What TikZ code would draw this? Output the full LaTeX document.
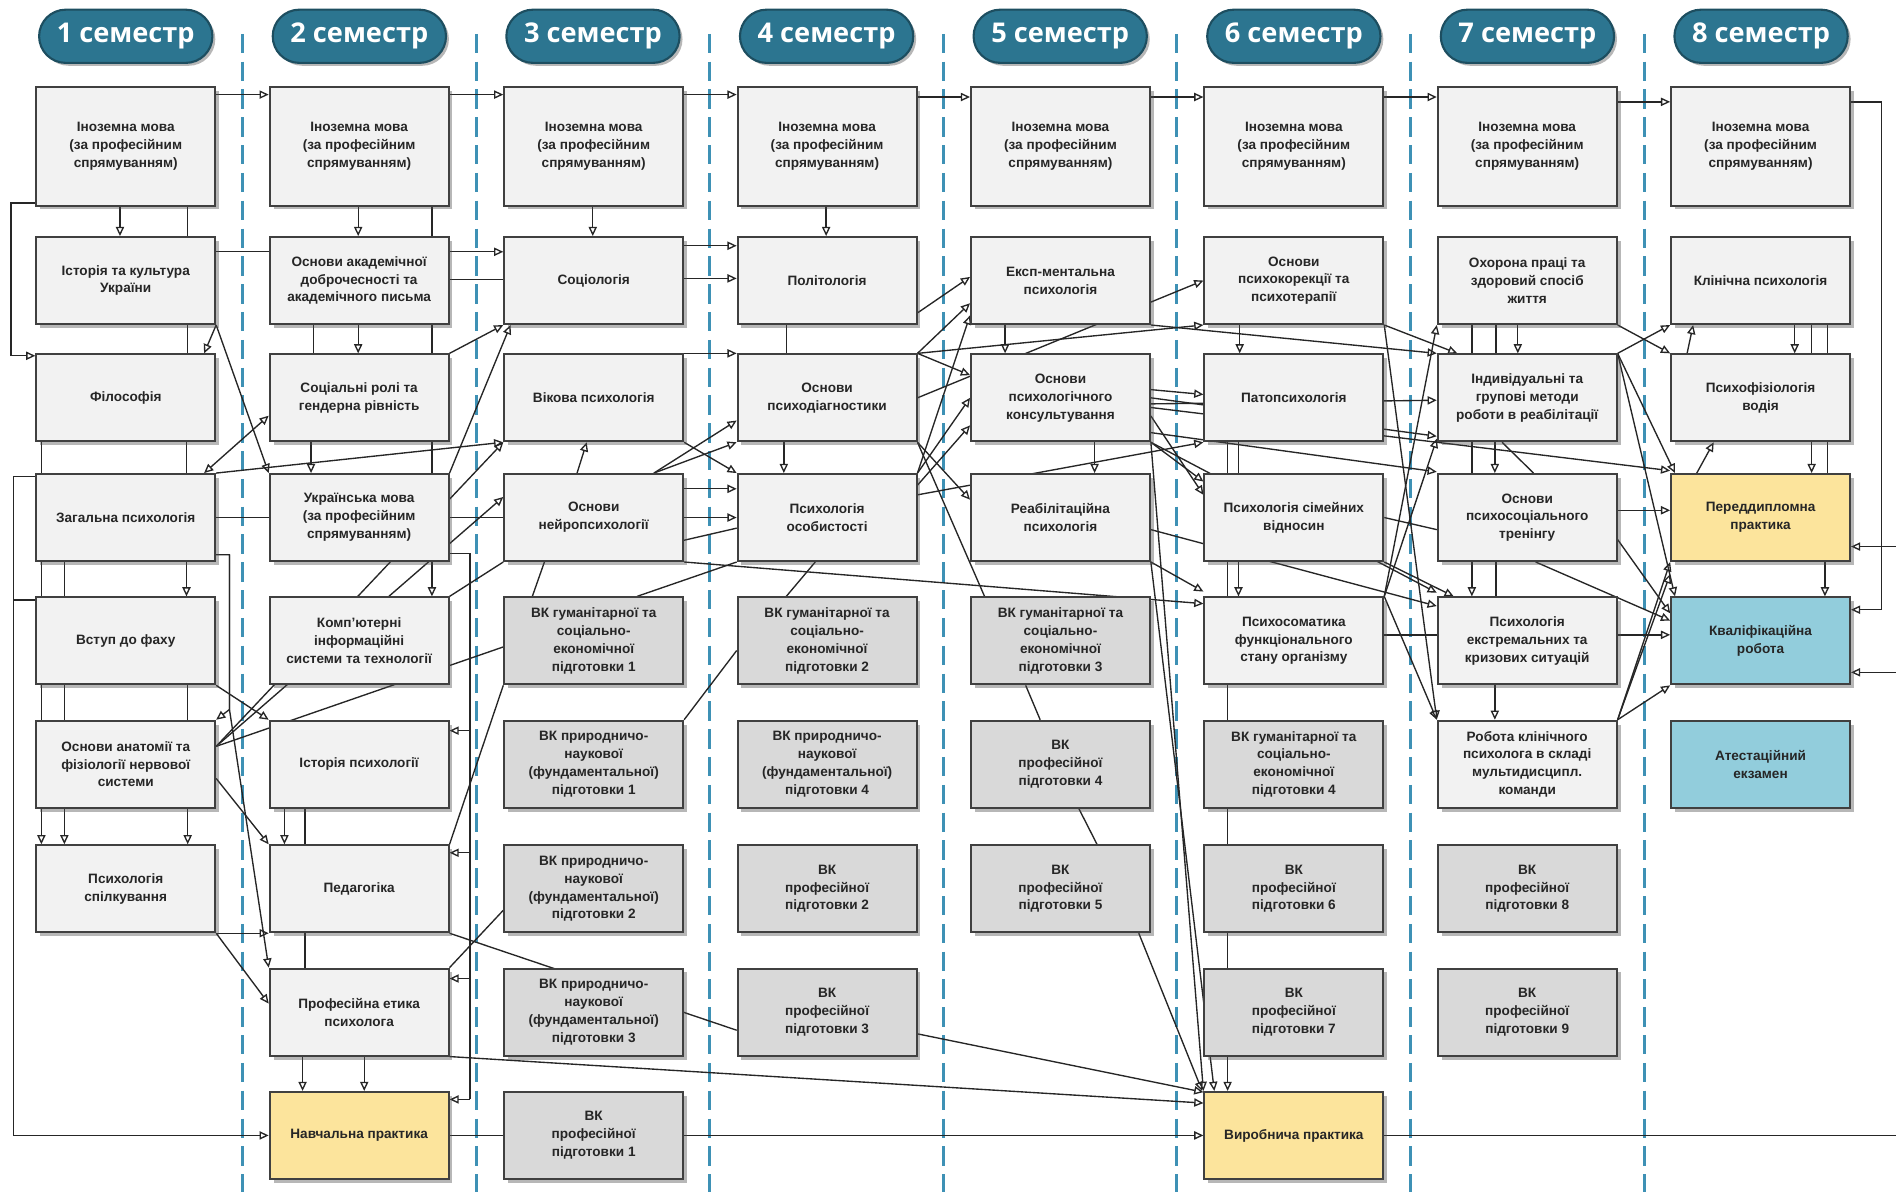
\documentclass[tikz,border=0pt]{standalone}
\usepackage{fontspec}
\setmainfont{Liberation Sans}
\newfontfamily\semfont{Open Sans}
\usepackage{tikz}
\usetikzlibrary{calc}
\usetikzlibrary{arrows.meta}
\usetikzlibrary{shadows}
\usetikzlibrary{shapes.misc}
\usetikzlibrary{backgrounds}

\definecolor{boxfill}{HTML}{F2F2F2}
\definecolor{vkfill}{HTML}{D9D9D9}
\definecolor{prakfill}{HTML}{FCE49C}
\definecolor{finfill}{HTML}{92CDDC}
\definecolor{semfill}{HTML}{2C7590}
\definecolor{semline}{HTML}{1D4E60}
\definecolor{sepcol}{HTML}{3E91B5}

\tikzset{
	subj/.style={draw=black!75, line width=2.2pt, fill=boxfill, minimum width=74mm, minimum height=36mm,
		inner sep=0pt, align=center, text=black!85, font=\fontsize{16}{21}\selectfont\bfseries,
		drop shadow={shadow xshift=1.6mm, shadow yshift=-1.6mm, opacity=.4, fill=black!70}},
	tallsubj/.style={subj, minimum height=49mm},
	vk/.style={subj, fill=vkfill},
	prak/.style={subj, fill=prakfill},
	fin/.style={subj, fill=finfill},
	sem/.style={rounded rectangle, draw=semline, line width=2.5pt, fill=semfill, minimum width=74mm,
		minimum height=22mm, text=white, font=\semfont\bfseries\fontsize{32}{36}\selectfont,
		drop shadow={shadow xshift=1.2mm, shadow yshift=-1.2mm, opacity=.4, fill=black!70}},
	sepline/.style={draw=sepcol, line width=3.5pt, dash pattern=on 8mm off 3.5mm},
	ln/.style={line width=1.6pt, draw=black!85},
	arr/.style={ln, -{Triangle[open, length=3.8mm, width=3.4mm]}},
	barr/.style={ln, {Triangle[open, length=3.8mm, width=3.4mm]}-{Triangle[open, length=3.8mm, width=3.4mm]}},
}

\begin{document}
\begin{tikzpicture}[x=0.5mm, y=-0.5mm]
	\useasboundingbox (0,0) rectangle (1568,986);
	% semesters
	\foreach \i in {1,...,8}
		\node[sem] (sem\i) at ({104+193.2*(\i-1)},30) {\i\ семестр};

	% 1 semester
	\node[tallsubj] (in1) at (104,121) {Іноземна мова\\(за професійним\\спрямуванням)};
	\node[subj] (ist) at (104,232) {Історія та культура\\України};
	\node[subj] (fil) at (104,329) {Філософія};
	\node[subj] (zag) at (104,428) {Загальна психологія};
	\node[subj] (vst) at (104,530) {Вступ до фаху};
	\node[subj] (anat) at (104,632) {Основи анатомії та\\фізіології нервової\\системи};
	\node[subj] (spil) at (104,735) {Психологія\\спілкування};
	% 2 semester
	\node[tallsubj] (in2) at (297,121) {Іноземна мова\\(за професійним\\спрямуванням)};
	\node[subj] (akad) at (297,232) {Основи академічної\\доброчесності та\\академічного письма};
	\node[subj] (soc) at (297,329) {Соціальні ролі та\\гендерна рівність};
	\node[subj] (ukr) at (297,428) {Українська мова\\(за професійним\\спрямуванням)};
	\node[subj] (komp) at (297,530) {Комп’ютерні\\інформаційні\\системи та технології};
	\node[subj] (istp) at (297,632) {Історія психології};
	\node[subj] (ped) at (297,735) {Педагогіка};
	\node[subj] (etyk) at (297,837) {Професійна етика\\психолога};
	\node[prak] (navch) at (297,939) {Навчальна практика};
	% 3 semester
	\node[tallsubj] (in3) at (491,121) {Іноземна мова\\(за професійним\\спрямуванням)};
	\node[subj] (sociol) at (491,232) {Соціологія};
	\node[subj] (vik) at (491,329) {Вікова психологія};
	\node[subj] (neur) at (491,428) {Основи\\нейропсихології};
	\node[vk] (vkg1) at (491,530) {ВК гуманітарної та\\соціально-\\економічної\\підготовки 1};
	\node[vk] (vkp1) at (491,632) {ВК природничо-\\наукової\\(фундаментальної)\\підготовки 1};
	\node[vk] (vkp2) at (491,735) {ВК природничо-\\наукової\\(фундаментальної)\\підготовки 2};
	\node[vk] (vkp3) at (491,837) {ВК природничо-\\наукової\\(фундаментальної)\\підготовки 3};
	\node[vk] (vkpr1) at (491,939) {ВК\\професійної\\підготовки 1};
	% 4 semester
	\node[tallsubj] (in4) at (684,121) {Іноземна мова\\(за професійним\\спрямуванням)};
	\node[subj] (polit) at (684,232) {Політологія};
	\node[subj] (diag) at (684,329) {Основи\\психодіагностики};
	\node[subj] (osob) at (684,428) {Психологія\\особистості};
	\node[vk] (vkg2) at (684,530) {ВК гуманітарної та\\соціально-\\економічної\\підготовки 2};
	\node[vk] (vkp4) at (684,632) {ВК природничо-\\наукової\\(фундаментальної)\\підготовки 4};
	\node[vk] (vkpr2) at (684,735) {ВК\\професійної\\підготовки 2};
	\node[vk] (vkpr3) at (684,837) {ВК\\професійної\\підготовки 3};
	% 5 semester
	\node[tallsubj] (in5) at (877,121) {Іноземна мова\\(за професійним\\спрямуванням)};
	\node[subj] (eksp) at (877,232) {Експ-ментальна\\психологія};
	\node[subj] (kons) at (877,329) {Основи\\психологічного\\консультування};
	\node[subj] (reab) at (877,428) {Реабілітаційна\\психологія};
	\node[vk] (vkg3) at (877,530) {ВК гуманітарної та\\соціально-\\економічної\\підготовки 3};
	\node[vk] (vkpr4) at (877,632) {ВК\\професійної\\підготовки 4};
	\node[vk] (vkpr5) at (877,735) {ВК\\професійної\\підготовки 5};
	% 6 semester
	\node[tallsubj] (in6) at (1070,121) {Іноземна мова\\(за професійним\\спрямуванням)};
	\node[subj] (korek) at (1070,232) {Основи\\психокорекції та\\психотерапії};
	\node[subj] (pato) at (1070,329) {Патопсихологія};
	\node[subj] (simj) at (1070,428) {Психологія сімейних\\відносин};
	\node[subj] (somat) at (1070,530) {Психосоматика\\функціонального\\стану організму};
	\node[vk] (vkg4) at (1070,632) {ВК гуманітарної та\\соціально-\\економічної\\підготовки 4};
	\node[vk] (vkpr6) at (1070,735) {ВК\\професійної\\підготовки 6};
	\node[vk] (vkpr7) at (1070,837) {ВК\\професійної\\підготовки 7};
	\node[prak] (vyrob) at (1070,939) {Виробнича практика};
	% 7 semester
	\node[tallsubj] (in7) at (1263,121) {Іноземна мова\\(за професійним\\спрямуванням)};
	\node[subj] (ohor) at (1263,232) {Охорона праці та\\здоровий спосіб\\життя};
	\node[subj] (indiv) at (1263,329) {Індивідуальні та\\групові методи\\роботи в реабілітації};
	\node[subj] (tren) at (1263,428) {Основи\\психосоціального\\тренінгу};
	\node[subj] (ekstr) at (1263,530) {Психологія\\екстремальних та\\кризових ситуацій};
	\node[subj] (klin) at (1263,632) {Робота клінічного\\психолога в складі\\мультидисципл.\\команди};
	\node[vk] (vkpr8) at (1263,735) {ВК\\професійної\\підготовки 8};
	\node[vk] (vkpr9) at (1263,837) {ВК\\професійної\\підготовки 9};
	% 8 semester
	\node[tallsubj] (in8) at (1456,121) {Іноземна мова\\(за професійним\\спрямуванням)};
	\node[subj] (klps) at (1456,232) {Клінічна психологія};
	\node[subj] (fiz) at (1456,329) {Психофізіологія\\водія};
	\node[prak] (pered) at (1456,428) {Переддипломна\\практика};
	\node[fin] (kval) at (1456,530) {Кваліфікаційна\\робота};
	\node[fin] (atest) at (1456,632) {Атестаційний\\екзамен};

	\coordinate (rp) at (1568,452);
	\coordinate (rk) at (1568,556);
	\coordinate (rv) at (1568,939);

	\begin{scope}[on background layer]
		\foreach \i in {1,...,7}
			\draw[sepline] ({200.5+193.2*(\i-1)},28) -- ({200.5+193.2*(\i-1)},986);

		% foreign language chain
		\foreach \a/\b/\d in {in1/in2/7,in2/in3/7,in3/in4/7,in4/in5/9,in5/in6/9,in6/in7/9,in7/in8/13}
			\draw[arr] ($(\a.north east)+(0,\d)$) -- ($(\b.north west)+(0,\d)$);
		\draw[arr] ($(in8.north east)+(0,13)$) -- ++(25,0) |- ($(kval.north east)+(0,11)$);
		\draw[arr] (rp) -- (rp -| pered.east);
		\draw[arr] (rk) -- (rk -| kval.east);
		\draw[ln] (vyrob.east) -- (rv);

		% column 1
		\draw[arr] ($(in1.south west)+(70,0)$) -- ($(ist.north west)+(70,0)$);
		\draw[ln] ($(in1.south west)+(126,0)$) -- ($(ist.north west)+(126,0)$);
		\draw[ln] ($(ist.south west)+(126,0)$) -- ($(fil.north west)+(126,0)$);
		\draw[ln] ($(fil.south west)+(125,0)$) -- ($(zag.north west)+(125,0)$);
		\draw[arr] ($(zag.south west)+(125,0)$) -- ($(vst.north west)+(125,0)$);
		\draw[arr] ($(vst.south west)+(126,0)$) -- ($(spil.north west)+(126,0)$);
		\draw[arr] ($(fil.south west)+(5,0)$) -- ($(spil.north west)+(5,0)$);
		\draw[arr] ($(zag.south west)+(24,0)$) -- ($(spil.north west)+(24,0)$);
		\draw[arr] (ist.south east) -- ($(fil.north east)+(-10,0)$);
		\draw[arr] ($(in1.south west)+(0,-3)$) -- ++(-20,0) |- ($(fil.north west)+(0,2)$);
		\draw[arr] ($(zag.north west)+(0,3)$) -- ++(-18,0) |- (navch.west);
		\draw[ln] ($(vst.north west)+(0,3)$) -- ++(-18,0);

		% column 1 -> column 2
		\draw[ln] ($(ist.north east)+(0,13)$) -- ($(akad.north west)+(0,13)$);
		\draw[arr] (ist.south east) -- (ukr.north west);
		\draw[barr] ($(zag.north east)+(-10,0)$) -- ($(soc.south west)+(0,-22)$);
		\draw[arr] (zag.north east) -- (vik.south west);
		\draw[ln] (zag.east) -- (ukr.west);
		\draw[arr] ($(zag.south east)+(0,-6)$) -- ++(11,0) coordinate (zb) -- ++(0,128) -- (anat.north east);
		\draw[arr] (zb) -- ++(0,128) -- (etyk.north west);
		\draw[arr] (vst.south east) -- (istp.north west);
		\draw[arr] ($(anat.south east)+(0,-25)$) -- (ped.north west);
		\draw[arr] (spil.south east) -- (ped.south west);
		\draw[arr] (spil.south east) -- ($(etyk.west)+(0,-7)$);
		\draw[arr] ($(anat.north east)+(0,22)$) -- (vik.south west);
		\draw[arr] ($(anat.north east)+(0,22)$) -- ($(neur.west)+(0,-17)$);
		\draw[ln] ($(anat.north east)+(0,22)$) -- ($(vkg1.west)+(0,5)$);

		% column 2
		\draw[arr] ($(in2.south west)+(74,0)$) -- ($(akad.north west)+(74,0)$);
		\draw[ln] ($(in2.south west)+(135,0)$) -- ($(akad.north west)+(135,0)$);
		\draw[ln] ($(akad.south west)+(37,0)$) -- ($(soc.north west)+(37,0)$);
		\draw[arr] ($(akad.south west)+(74,0)$) -- ($(soc.north west)+(74,0)$);
		\draw[ln] ($(akad.south west)+(135,0)$) -- ($(soc.north west)+(135,0)$);
		\draw[arr] ($(soc.south west)+(35,0)$) -- ($(ukr.north west)+(35,0)$);
		\draw[ln] ($(soc.south west)+(135,0)$) -- ($(ukr.north west)+(135,0)$);
		\draw[arr] ($(ukr.south west)+(135,0)$) -- ($(komp.north west)+(135,0)$);
		\draw[arr] ($(istp.south west)+(13,0)$) -- ($(ped.north west)+(13,0)$);
		\draw[ln] ($(istp.south west)+(30,0)$) -- ($(ped.north west)+(30,0)$);
		\draw[ln] ($(ped.south west)+(30,0)$) -- ($(etyk.north west)+(30,0)$);
		\draw[arr] ($(etyk.south west)+(28,0)$) -- ($(navch.north west)+(28,0)$);
		\draw[arr] ($(etyk.south west)+(79,0)$) -- ($(navch.north west)+(79,0)$);
		\draw[ln] ($(ukr.south east)+(0,-7)$) -- ++(17,0) coordinate (ub) -- ($(ub |- navch.north)+(0,7)$);
		\foreach \n/\d in {istp/9,ped/7,etyk/9,navch/7}
			\draw[arr] ($(ub |- \n.north)+(0,\d)$) -- ($(\n.north east)+(0,\d)$);

		% column 2 -> column 3
		\draw[arr] ($(akad.north east)+(0,13)$) -- ($(sociol.north west)+(0,13)$);
		\draw[ln] ($(akad.north east)+(0,36)$) -- ($(sociol.north west)+(0,36)$);
		\draw[arr] (soc.north east) -- (sociol.south west);
		\draw[arr] (ukr.north east) -- ($(sociol.south west)+(6,0)$);
		\draw[ln] (ukr.east) -- (neur.west);
		\draw[ln] (komp.north east) -- (neur.south west);
		\draw[ln] (ped.north east) -- (vkg1.south west);
		\draw[ln] (etyk.north east) -- ($(vkp2.south west)+(0,-19)$);
		\draw[ln] (ped.south east) -- ($(vkpr3.west)+(0,15)$);
		\draw[arr] (etyk.south east) -- ($(vyrob.north west)+(0,10)$);
		\draw[ln] (navch.east) -- (vkpr1.west);
		\draw[arr] (vkpr1.east) -- (vyrob.west);
		\draw[arr] ($(vkpr3.east)+(0,18)$) -- ($(vyrob.north west)+(0,1)$);

		% column 3
		\draw[arr] ($(in3.south west)+(74,0)$) -- ($(sociol.north west)+(74,0)$);
		\draw[arr] ($(neur.north west)+(61,0)$) -- ($(vik.south west)+(69,0)$);
		\draw[ln] ($(neur.south west)+(34,0)$) -- ($(vkg1.north west)+(24,0)$);

		% column 3 -> column 4
		\draw[arr] ($(sociol.north east)+(0,8)$) -- ($(polit.north west)+(0,8)$);
		\draw[arr] ($(sociol.north east)+(0,35)$) -- ($(polit.north west)+(0,35)$);
		\draw[arr] (vik.north east) -- (diag.north west);
		\draw[arr] ($(neur.north east)+(-25,0)$) -- (diag.south west);
		\draw[arr] ($(neur.north east)+(-25,0)$) -- ($(diag.south west)+(0,-18)$);
		\draw[arr] (vik.south east) -- (osob.north west);
		\draw[arr] ($(neur.north east)+(0,13)$) -- ($(osob.north west)+(0,13)$);
		\draw[arr] (neur.east) -- (osob.west);
		\draw[ln] ($(neur.south east)+(0,-18)$) -- ($(osob.south west)+(0,-28)$);
		\draw[ln] (osob.south west) -- ($(vkg1.north east)+(-39,0)$);
		\draw[ln] (vkp1.north east) -- ($(vkg2.west)+(0,8)$);
		\draw[arr] (neur.south east) -- ($(somat.north west)+(0,6)$);

		% column 4
		\draw[arr] ($(in4.south west)+(74,0)$) -- ($(polit.north west)+(74,0)$);
		\draw[ln] ($(polit.south west)+(41,0)$) -- ($(diag.north west)+(41,0)$);
		\draw[arr] ($(diag.south west)+(39,0)$) -- ($(osob.north west)+(39,0)$);
		\draw[ln] ($(osob.south west)+(65,0)$) -- ($(vkg2.north west)+(41,0)$);

		% column 4 -> column 5
		\draw[arr] ($(polit.south east)+(0,-10)$) -- ($(eksp.west)+(0,-3)$);
		\draw[arr] (diag.north east) -- ($(eksp.south west)+(0,-18)$);
		\draw[arr] (osob.north east) -- ($(eksp.south west)+(0,-8)$);
		\draw[arr] (diag.north east) -- ($(kons.north west)+(0,18)$);
		\draw[arr] ($(osob.north east)+(0,10)$) -- ($(kons.south west)+(0,-14)$);
		\draw[arr] (osob.north east) -- (kons.west);
		\draw[arr] (diag.south east) -- ($(reab.north west)+(0,22)$);
		\draw[ln] (diag.south east) -- ($(vkg3.north west)+(12,0)$);
		\draw[arr] (diag.east) -- (korek.west);
		\draw[arr] (diag.north east) -- (korek.south west);
		\draw[arr] ($(osob.north east)+(0,18)$) -- (pato.south west);

		% column 5
		\draw[arr] ($(eksp.south west)+(29,0)$) -- ($(kons.north west)+(29,0)$);
		\draw[arr] ($(kons.south west)+(103,0)$) -- ($(reab.north west)+(103,0)$);
		\draw[ln] ($(vkg3.south west)+(46,0)$) -- ($(vkpr4.north west)+(58,0)$);
		\draw[ln] ($(vkpr4.south west)+(90,0)$) -- ($(vkpr5.north west)+(105,0)$);

		% column 5 -> columns 6 and 7
		\draw[arr] (eksp.south east) -- (indiv.north west);
		\draw[arr] ($(kons.north east)+(0,30)$) -- ($(pato.north west)+(0,34)$);
		\draw[arr] (kons.south east) -- ($(simj.north west)+(0,7)$);
		\draw[arr] ($(kons.east)+(0,15)$) -- ($(simj.north west)+(0,18)$);
		\draw[arr] (kons.south east) -- ($(ekstr.north west)+(0,-3)$);
		\draw[arr] ($(reab.east)+(0,10)$) -- ($(ekstr.north west)+(0,8)$);
		\draw[arr] ($(kons.east)+(0,5)$) -- ($(indiv.west)+(0,2)$);
		\draw[arr] (kons.east) -- ($(indiv.south west)+(0,-5)$);
		\draw[arr] ($(kons.south east)+(0,-8)$) -- ($(tren.north west)+(0,-1)$);
		\draw[arr] ($(kons.east)+(0,8)$) -- ($(pered.north west)+(0,-2)$);
		\draw[arr] (kons.south east) -- (vyrob.north west);
		\draw[arr] (reab.south east) -- ($(vyrob.north west)+(9,0)$);
		\draw[arr] (reab.south east) -- ($(somat.north west)+(0,-4)$);
		\draw[arr] ($(vkpr5.south east)+(-10,0)$) -- ($(vyrob.north west)+(-1,0)$);

		% column 6
		\draw[arr] ($(korek.south west)+(30,0)$) -- ($(pato.north west)+(30,0)$);
		\draw[ln] ($(pato.south west)+(29,0)$) -- ($(simj.north west)+(29,0)$);
		\draw[arr] ($(simj.south west)+(29,0)$) -- ($(somat.north west)+(29,0)$);
		\draw[arr] ($(pato.south west)+(20,0)$) -- ($(vyrob.north west)+(20,0)$);

		% column 6 -> column 7
		\draw[arr] (korek.south east) -- ($(indiv.north west)+(17,0)$);
		\draw[arr] (korek.south east) -- (klin.north west);
		\draw[ln] (simj.east) -- ($(tren.west)+(0,10)$);
		\draw[arr] (simj.south east) -- ($(ekstr.north west)+(14,0)$);
		\draw[arr] (somat.north east) -- (ohor.south west);
		\draw[arr] (somat.north east) -- ($(indiv.south west)+(0,-3)$);
		\draw[arr] (somat.north east) -- (klin.north west);
		\draw[ln] ($(somat.east)+(0,-5)$) -- ($(ekstr.west)+(0,-5)$);

		% column 7
		\draw[arr] ($(ohor.south west)+(67,0)$) -- ($(indiv.north west)+(67,0)$);
		\draw[ln] ($(ohor.south west)+(29,0)$) -- ($(indiv.north west)+(29,0)$);
		\draw[ln] ($(ohor.south west)+(49,0)$) -- ($(indiv.north west)+(49,0)$);
		\draw[ln] ($(indiv.south west)+(29,0)$) -- ($(tren.north west)+(29,0)$);
		\draw[arr] ($(indiv.south west)+(48,0)$) -- ($(tren.north west)+(48,0)$);
		\draw[ln] ($(indiv.south west)+(54,0)$) -- ($(tren.north west)+(80,0)$);
		\draw[arr] ($(tren.south west)+(29,0)$) -- ($(ekstr.north west)+(29,0)$);
		\draw[ln] ($(tren.south west)+(49,0)$) -- ($(ekstr.north west)+(49,0)$);
		\draw[arr] ($(ekstr.south west)+(48,0)$) -- ($(klin.north west)+(48,0)$);

		% column 7 -> column 8
		\draw[arr] (ohor.south east) -- (fiz.north west);
		\draw[arr] (indiv.north east) -- (klps.south west);
		\draw[arr] (indiv.north east) -- ($(pered.north west)+(4,0)$);
		\draw[arr] (indiv.north east) -- ($(kval.north west)+(4,0)$);
		\draw[arr] ($(tren.east)+(0,-6)$) -- ($(pered.west)+(0,-6)$);
		\draw[arr] ($(tren.north east)+(0,55)$) -- ($(kval.north west)+(0,14)$);
		\draw[arr] ($(tren.south)+(7,0)$) -- ($(kval.north west)+(0,20)$);
		\draw[arr] ($(ekstr.east)+(0,-5)$) -- ($(kval.west)+(0,-5)$);
		\draw[arr] (klin.north east) -- (kval.south west);
		\draw[arr] (klin.north east) -- (pered.south west);
		\draw[arr] (klin.north east) -- ($(pered.south west)+(0,10)$);

		% column 8
		\draw[arr] ($(klps.south west)+(103,0)$) -- ($(fiz.north west)+(103,0)$);
		\draw[arr] ($(fiz.north west)+(14,0)$) -- ($(klps.south west)+(19,0)$);
		\draw[ln] ($(klps.south west)+(117,0)$) -- ($(fiz.north west)+(117,0)$);
		\draw[ln] ($(klps.south west)+(130,0)$) -- ($(fiz.north west)+(130,0)$);
		\draw[arr] ($(fiz.south west)+(117,0)$) -- ($(pered.north west)+(117,0)$);
		\draw[ln] ($(fiz.south west)+(130,0)$) -- ($(pered.north west)+(130,0)$);
		\draw[arr] ($(pered.north west)+(22,0)$) -- ($(fiz.south west)+(36,0)$);
		\draw[arr] ($(pered.south west)+(128,0)$) -- ($(kval.north west)+(128,0)$);
	\end{scope}
\end{tikzpicture}
\end{document}
